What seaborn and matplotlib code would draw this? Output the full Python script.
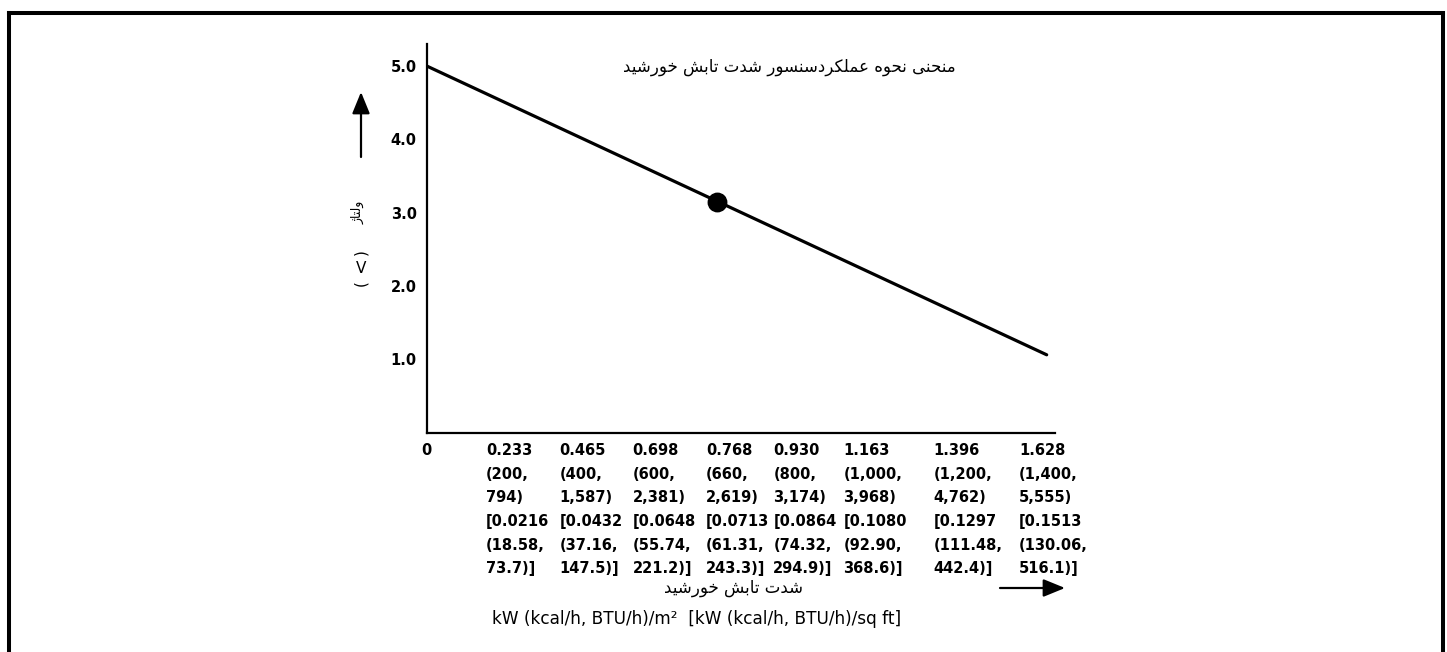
import matplotlib
matplotlib.use("Agg")
import matplotlib.pyplot as plt
from matplotlib.lines import Line2D
from matplotlib.transforms import ScaledTranslation, blended_transform_factory
import seaborn as sns

# ---------------------------------------------------------------- data
# sensor output line: solar irradiance (kW/m2) vs output voltage (V)
line_kw = [0.0, 1.64]
line_volts = [5.0, 1.06]

# marked operating point
point_kw = [0.768]
point_volts = [3.15]

# x-axis ticks in the four unit systems
tick_kw = [0.233, 0.465, 0.698, 0.768, 0.930, 1.163, 1.396, 1.628]
tick_kcal = [200, 400, 600, 660, 800, 1000, 1200, 1400]
tick_btu = [794, 1587, 2381, 2619, 3174, 3968, 4762, 5555]
tick_kw_sqft = [0.0216, 0.0432, 0.0648, 0.0713, 0.0864, 0.1080, 0.1297, 0.1513]
tick_kcal_sqft = [18.58, 37.16, 55.74, 61.31, 74.32, 92.90, 111.48, 130.06]
tick_btu_sqft = [73.7, 147.5, 221.2, 243.3, 294.9, 368.6, 442.4, 516.1]

volt_ticks = [1.0, 2.0, 3.0, 4.0, 5.0]

title_text = "منحنی نحوه عملکردسنسور شدت تابش خورشید"
xlabel_fa = "شدت تابش خورشید"
ylabel_fa = "ولتاژ"
unit_text = "kW (kcal/h, BTU/h)/m²  [kW (kcal/h, BTU/h)/sq ft]"

# --------------------------------------------------- Persian text shaping
# contextual forms (isolated, final, initial, medial) for dual-joining letters
DUAL = {
    "ب": (0xFE8F, 0xFE90, 0xFE91, 0xFE92), "ت": (0xFE95, 0xFE96, 0xFE97, 0xFE98),
    "ح": (0xFEA1, 0xFEA2, 0xFEA3, 0xFEA4), "خ": (0xFEA5, 0xFEA6, 0xFEA7, 0xFEA8),
    "س": (0xFEB1, 0xFEB2, 0xFEB3, 0xFEB4), "ش": (0xFEB5, 0xFEB6, 0xFEB7, 0xFEB8),
    "ع": (0xFEC9, 0xFECA, 0xFECB, 0xFECC), "ل": (0xFEDD, 0xFEDE, 0xFEDF, 0xFEE0),
    "م": (0xFEE1, 0xFEE2, 0xFEE3, 0xFEE4), "ن": (0xFEE5, 0xFEE6, 0xFEE7, 0xFEE8),
    "ه": (0xFEE9, 0xFEEA, 0xFEEB, 0xFEEC), "ی": (0xFBFC, 0xFBFD, 0xFBFE, 0xFBFF),
    "ک": (0xFB8E, 0xFB8F, 0xFB90, 0xFB91),
}
# (isolated, final) for right-joining letters
RIGHT = {
    "ا": (0xFE8D, 0xFE8E), "د": (0xFEA9, 0xFEAA), "ر": (0xFEAD, 0xFEAE),
    "و": (0xFEED, 0xFEEE), "ژ": (0xFB8A, 0xFB8B),
}


def shape_fa(s):
    out = []
    for i, c in enumerate(s):
        prev = s[i - 1] if i > 0 else ""
        nxt = s[i + 1] if i + 1 < len(s) else ""
        joins_prev = prev in DUAL
        if c in DUAL:
            joins_next = nxt in DUAL or nxt in RIGHT
            idx = 3 if (joins_prev and joins_next) else 1 if joins_prev else 2 if joins_next else 0
            out.append(chr(DUAL[c][idx]))
        elif c in RIGHT:
            out.append(chr(RIGHT[c][1 if joins_prev else 0]))
        else:
            out.append(c)
    return "".join(reversed(out))


# ---------------------------------------------------------------- style
sns.set_theme(style="white")
plt.rcParams["font.family"] = ["DejaVu Sans"]

W, H, DPI = 1447, 652, 100
fig = plt.figure(figsize=(W / DPI, H / DPI), dpi=DPI)
fig.patch.set_facecolor("white")

# axes box in pixels: left 426.7, bottom (from top) 432.5, right 1055, top 44
ax_l, ax_b_top, ax_r, ax_t = 426.7, 432.5, 1055.0, 44.0
ax = fig.add_axes([ax_l / W, (H - ax_b_top) / H, (ax_r - ax_l) / W, (ax_b_top - ax_t) / H])
ax.set_facecolor("white")

sns.lineplot(x=line_kw, y=line_volts, color="black", linewidth=2.3, ax=ax)
sns.scatterplot(x=point_kw, y=point_volts, s=175, color="black", edgecolor="black",
                ax=ax, zorder=4, legend=False)

ax.set_xlim(0, 1.662)
ax.set_ylim(0, 5.30)

for side in ("top", "right"):
    ax.spines[side].set_visible(False)
for side in ("left", "bottom"):
    ax.spines[side].set_color("black")
    ax.spines[side].set_linewidth(1.6)

ax.tick_params(axis="both", direction="in", length=9.5, width=1.4, colors="black")
ax.set_yticks(volt_ticks, labels=[f"{v:.1f}" for v in volt_ticks])
ax.tick_params(axis="y", pad=7.2, labelsize=10.5)
for lab in ax.get_yticklabels():
    lab.set_fontweight("bold")

ax.set_xticks([0.0] + tick_kw, labels=[""] * (len(tick_kw) + 1))
ax.grid(False)

# multi-line x tick labels, left-aligned in columns under each tick
label_offset_px = [-29, -43, -58, -11, -5, -23, -21, -23]
tick_font = dict(fontsize=10.5, fontweight="bold", color="black", linespacing=1.72)
xtrans = blended_transform_factory(ax.transData, ax.transAxes)
ax.text(0.0, 0.0, "0", ha="center", va="top",
        transform=xtrans + ScaledTranslation(0, -10.5 / DPI, fig.dpi_scale_trans), **tick_font)
for i, kw in enumerate(tick_kw):
    lines = [
        f"{kw:.3f}",
        f"({tick_kcal[i]:,},",
        f"{tick_btu[i]:,})",
        f"[{tick_kw_sqft[i]:.4f}",
        f"({tick_kcal_sqft[i]:.2f},",
        f"{tick_btu_sqft[i]:.1f})]",
    ]
    off = ScaledTranslation(label_offset_px[i] / DPI, -10.5 / DPI, fig.dpi_scale_trans)
    ax.text(kw, 0.0, "\n".join(lines), ha="left", va="top", multialignment="left",
            transform=xtrans + off, **tick_font)

# ---------------------------------------------------------- annotations
def fx(px):
    return px / W


def fy(py):
    return 1 - py / H


fig.text(fx(789), fy(67), shape_fa(title_text), ha="center", va="center",
         fontsize=12, color="black")
fig.text(fx(733), fy(588), shape_fa(xlabel_fa), ha="center", va="center",
         fontsize=12, color="black")
fig.text(fx(697), fy(619), unit_text, ha="center", va="center",
         fontsize=12.2, color="black")

# vertical axis title: Persian word and (V), read bottom to top
fig.text(fx(358), fy(212), shape_fa(ylabel_fa), ha="center", va="center",
         rotation=90, fontsize=9, color="black")
fig.text(fx(361), fy(283), "(", ha="center", va="center", rotation=90, fontsize=11, color="black")
fig.text(fx(361), fy(268), "V", ha="center", va="center", fontsize=11, color="black")
fig.text(fx(361), fy(252), ")", ha="center", va="center", rotation=90, fontsize=11, color="black")

# direction arrows
arrow_style = dict(arrowstyle="-|>,head_length=1.1,head_width=0.45", color="black",
                   lw=1.6, shrinkA=0, shrinkB=0)
ax.annotate("", xy=(fx(361), fy(92)), xytext=(fx(361), fy(157)),
            xycoords="figure fraction", textcoords="figure fraction", arrowprops=arrow_style)
ax.annotate("", xy=(fx(1065), fy(588)), xytext=(fx(1000), fy(588)),
            xycoords="figure fraction", textcoords="figure fraction", arrowprops=arrow_style)

# page frame
frame = dict(color="black", linewidth=2.9, transform=fig.transFigure, solid_capstyle="projecting")
fig.add_artist(Line2D([fx(8.7), fx(8.7)], [fy(12.7), fy(652)], **frame))
fig.add_artist(Line2D([fx(8.7), fx(1443)], [fy(12.7), fy(12.7)], **frame))
fig.add_artist(Line2D([fx(1443), fx(1443)], [fy(12.7), fy(652)], **frame))

fig.savefig("out.png", dpi=DPI, facecolor="white")
